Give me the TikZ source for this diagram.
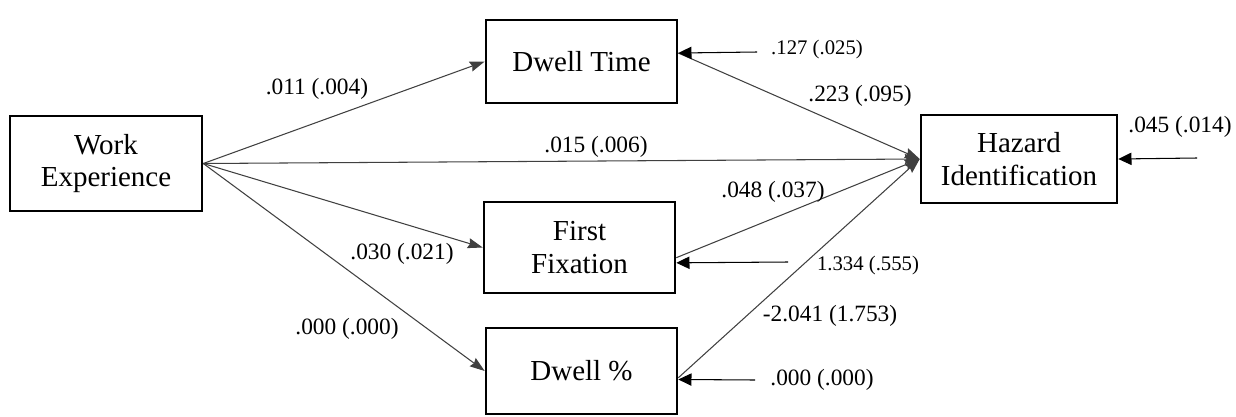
\documentclass[tikz,border=0pt]{standalone}
\usepackage{fontspec}
\setmainfont{Liberation Serif}
\usetikzlibrary{arrows.meta}

\begin{document}
\begin{tikzpicture}[
  x=0.02cm, y=-0.02cm,
  var/.style={draw, line width=1.5pt, align=center, inner sep=0pt,
    minimum width=#1, font=\fontsize{16.5}{18.7}\selectfont},
  coef/.style={font=\fontsize{13.3}{15}\selectfont, inner sep=0pt},
  ecoef/.style={font=\fontsize{11.8}{14}\selectfont, inner sep=0pt},
  path/.style={draw=black!75, line width=0.6pt,
    -{Stealth[length=8.5pt, width=5.8pt, inset=1pt, black!75]}},
  resid/.style={draw=black, line width=0.6pt,
    -{Triangle[length=7.5pt, width=7pt, black]}}
]
\useasboundingbox (0,0) rectangle (1236,416);

% Observed variables
\node[var=3.84cm, minimum height=1.9cm] (we) at (106,163.5) {Work\\Experience};
\node[var=3.82cm, minimum height=1.66cm] (dt) at (581.5,61.5) {Dwell Time};
\node[var=3.82cm, minimum height=1.82cm] (ff) at (579.5,247.5) {First\\Fixation};
\node[var=3.82cm, minimum height=1.72cm] (dp) at (581.5,371) {Dwell \%};
\node[var=3.92cm, minimum height=1.76cm] (hi) at (1019,159) {Hazard\\Identification};

% Paths from work experience
\draw[path] (we.east) -- (dt.west);
\draw[path] (we.east) -- (hi.west);
\draw[path] (we.east) -- (ff.west);
\draw[path] (we.east) -- (dp.west);

% Paths into hazard identification
\draw[path] (dt.5) -- (hi.west);
\draw[path] (ff.-6) -- (hi.west);
\draw[path] (dp.-4) -- (hi.west);

% Residual arrows
\coordinate (dtr) at (757,52);
\coordinate (ffr) at (788,262);
\coordinate (dpr) at (755,380);
\coordinate (hir) at (1197,158);
\draw[resid] (dtr) -- (dt.5);
\draw[resid] (ffr) -- (ff.-9);
\draw[resid] (dpr) -- (dp.-5);
\draw[resid] (hir) -- (hi.east);

% Estimates (SE)
\node[coef] (l1) at (317,89) {.011 (.004)};
\node[coef] (l2) at (596,147) {.015 (.006)};
\node[coef] (l3) at (402,254) {.030 (.021)};
\node[coef] (l4) at (347,329) {.000 (.000)};
\node[coef] (l5) at (860,96) {.223 (.095)};
\node[coef] (l6) at (773,192) {.048 (.037)};
\node[coef] (l7) at (830,316) {-2.041 (1.753)};
\node[ecoef] (e1) at (817,50) {.127 (.025)};
\node[ecoef] (e2) at (868,266) {1.334 (.555)};
\node[coef] (e3) at (822,380) {.000 (.000)};
\node[coef] (e4) at (1180,127) {.045 (.014)};

\end{tikzpicture}
\end{document}
